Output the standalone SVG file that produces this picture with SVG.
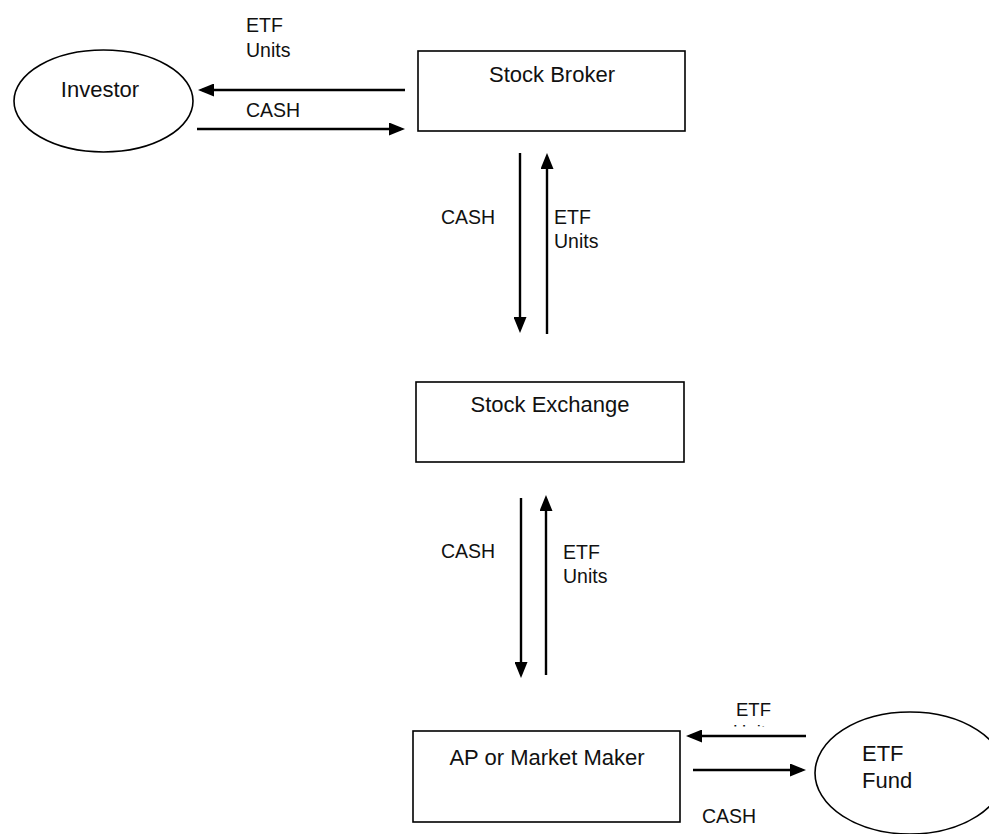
<svg xmlns="http://www.w3.org/2000/svg" width="989" height="834" viewBox="0 0 989 834">
<style>
  .shape { fill: #ffffff; stroke: #000000; stroke-width: 1.6; }
  .node { font-family: "Liberation Sans", Arial, sans-serif; font-size: 22px; fill: #111111; text-anchor: middle; }
  .nodel { font-family: "Liberation Sans", Arial, sans-serif; font-size: 22px; fill: #111111; }
  .lbl { font-family: "Liberation Sans", Arial, sans-serif; font-size: 19.5px; fill: #111111; }
  .lbls { font-family: "Liberation Sans", Arial, sans-serif; font-size: 18.5px; fill: #111111; }
  .conn { stroke: #000000; stroke-width: 2.4; fill: none; marker-end: url(#arrow); }
</style>
<defs>
  <marker id="arrow" viewBox="0 0 16 13" refX="12" refY="6.5" markerWidth="16" markerHeight="13" markerUnits="userSpaceOnUse" orient="auto">
    <path d="M0,0 L16,6.5 L0,13 z" fill="#000000"/>
  </marker>
  <clipPath id="unitsClip">
    <rect x="720" y="722" width="80" height="4.6"/>
  </clipPath>
</defs>
<rect x="0" y="0" width="989" height="834" fill="#ffffff"/>

<g id="investor">
  <ellipse class="shape" cx="103.5" cy="101" rx="89.5" ry="51"/>
  <text class="node" x="100" y="97">Investor</text>
</g>

<g id="stock-broker">
  <rect class="shape" x="418" y="51" width="267" height="80"/>
  <text class="node" x="552" y="82">Stock Broker</text>
</g>

<g id="stock-exchange">
  <rect class="shape" x="416" y="382" width="268" height="80"/>
  <text class="node" x="550" y="412">Stock Exchange</text>
</g>

<g id="ap-market-maker">
  <rect class="shape" x="413" y="731" width="267" height="91"/>
  <text class="node" x="547" y="765">AP or Market Maker</text>
</g>

<g id="etf-fund">
  <ellipse class="shape" cx="910" cy="773" rx="95" ry="61"/>
  <text class="nodel" x="862" y="761">ETF</text>
  <text class="nodel" x="862" y="788">Fund</text>
</g>

<g id="connectors">
  <line class="conn" x1="405" y1="90" x2="202" y2="90"/>
  <line class="conn" x1="197" y1="129" x2="401" y2="129"/>
  <line class="conn" x1="520" y1="153" x2="520" y2="329"/>
  <line class="conn" x1="547" y1="334" x2="547" y2="157"/>
  <line class="conn" x1="521" y1="498" x2="521" y2="674"/>
  <line class="conn" x1="546" y1="675" x2="546" y2="499"/>
  <line class="conn" x1="806" y1="736" x2="690" y2="736"/>
  <line class="conn" x1="693" y1="770" x2="802" y2="770"/>
</g>

<g id="labels">
  <text class="lbl" x="246" y="32">ETF</text>
  <text class="lbl" x="246" y="57">Units</text>
  <text class="lbl" x="246" y="117">CASH</text>
  <text class="lbl" x="441" y="224">CASH</text>
  <text class="lbl" x="554" y="224">ETF</text>
  <text class="lbl" x="554" y="248">Units</text>
  <text class="lbl" x="441" y="558">CASH</text>
  <text class="lbl" x="563" y="559">ETF</text>
  <text class="lbl" x="563" y="583">Units</text>
  <text class="lbls" x="736" y="716">ETF</text>
  <text class="lbls" x="733" y="738" clip-path="url(#unitsClip)">Units</text>
  <text class="lbl" x="702" y="823">CASH</text>
</g>
</svg>
